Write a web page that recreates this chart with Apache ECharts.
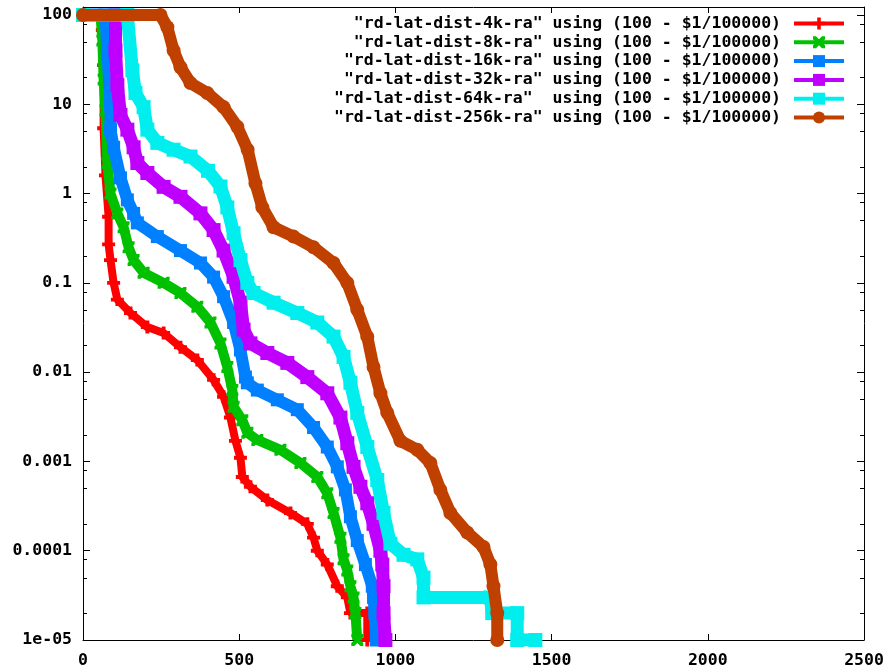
<!DOCTYPE html>
<html>
<head>
<meta charset="utf-8">
<script src="https://cdn.jsdelivr.net/npm/echarts@6/dist/echarts.min.js"></script>
<style>
html,body{margin:0;padding:0;background:#fff;}
#chart{width:891px;height:671px;}
</style>
</head>
<body>
<div id="chart"></div>
<script>
// ---- data (latency x, percent remaining y) ----
var names = [
  '"rd-lat-dist-4k-ra" using (100 - $1/100000)',
  '"rd-lat-dist-8k-ra" using (100 - $1/100000)',
  '"rd-lat-dist-16k-ra" using (100 - $1/100000)',
  '"rd-lat-dist-32k-ra" using (100 - $1/100000)',
  '"rd-lat-dist-64k-ra"  using (100 - $1/100000)',
  '"rd-lat-dist-256k-ra" using (100 - $1/100000)'
];
var colors = ['#ff0000', '#00c000', '#0080ff', '#c000ff', '#00eeee', '#c04000'];

var lat4k = [0, 56, 62, 66, 66, 72, 82, 82, 88, 98, 110, 152, 206, 258, 312, 366, 418, 450, 472, 488, 504, 510, 536, 590, 664, 718, 738, 750, 782, 814, 846, 856, 910, 910];
var pct4k = [100, 100, 68, 27.5, 5.4, 1.6, 0.55, 0.27, 0.18, 0.1, 0.065, 0.046, 0.032, 0.0275, 0.019, 0.0137, 0.0082, 0.0053, 0.0031, 0.0017, 0.0011, 0.00067, 0.00052, 0.00037, 0.000265, 0.0002, 0.00014, 0.0001, 0.00007, 0.00004, 0.00003, 0.00002, 0.00002, 0.00001];

var lat8k = [0, 56, 62, 66, 72, 78, 88, 110, 130, 146, 162, 194, 258, 312, 366, 408, 440, 462, 478, 482, 510, 526, 558, 632, 696, 750, 782, 802, 824, 834, 846, 856, 866, 872, 878];
var pct8k = [100, 100, 52, 19, 8.6, 2.2, 1.0, 0.6, 0.42, 0.25, 0.18, 0.13, 0.1, 0.077, 0.054, 0.036, 0.021, 0.0114, 0.0063, 0.0041, 0.0029, 0.0021, 0.00174, 0.00135, 0.00096, 0.00067, 0.00044, 0.000265, 0.00014, 0.00008, 0.00006, 0.00004, 0.00003, 0.00002, 0.00001];

var lat16k = [0, 72, 78, 88, 88, 98, 120, 142, 162, 174, 238, 312, 376, 418, 450, 482, 504, 520, 526, 558, 622, 686, 738, 782, 814, 840, 856, 878, 904, 926, 930, 934, 939];
var pct16k = [100, 100, 37.5, 10, 5.2, 3.3, 1.5, 0.85, 0.6, 0.47, 0.33, 0.23, 0.167, 0.116, 0.07, 0.036, 0.0177, 0.0088, 0.0076, 0.0063, 0.0049, 0.0038, 0.0024, 0.00145, 0.00087, 0.00048, 0.00024, 0.00013, 0.00007, 0.00004, 0.00003, 0.00002, 0.00001];

var lat32k = [0, 104, 104, 110, 120, 142, 162, 174, 206, 258, 312, 376, 418, 450, 482, 504, 514, 536, 590, 654, 718, 782, 824, 846, 866, 888, 910, 930, 952, 958, 962, 962, 968];
var pct32k = [100, 100, 40, 16.4, 7.6, 5.2, 3.3, 2.2, 1.7, 1.19, 0.92, 0.6, 0.39, 0.23, 0.117, 0.06, 0.03, 0.021, 0.0164, 0.0127, 0.0088, 0.0058, 0.0031, 0.0016, 0.00087, 0.00052, 0.00034, 0.0002, 0.0001, 0.00007, 0.00004, 0.00002, 0.00001];

var lat64k = [0, 142, 158, 168, 194, 206, 238, 290, 344, 400, 440, 462, 482, 504, 526, 546, 610, 686, 750, 802, 834, 856, 878, 910, 942, 962, 984, 1026, 1070, 1090, 1090, 1304, 1310, 1390, 1390, 1448];
var pct64k = [100, 100, 24, 13.4, 9.3, 5.2, 3.7, 3.1, 2.6, 1.8, 1.2, 0.7, 0.36, 0.18, 0.1, 0.077, 0.06, 0.046, 0.036, 0.025, 0.0148, 0.0076, 0.0035, 0.00145, 0.00062, 0.000265, 0.00012, 0.00009, 0.00008, 0.00005, 0.00003, 0.00003, 0.00002, 0.00002, 0.00001, 0.00001];

var lat256k = [0, 248, 270, 290, 312, 344, 398, 450, 494, 527, 552, 574, 610, 674, 738, 802, 846, 878, 910, 930, 952, 974, 1016, 1070, 1112, 1144, 1176, 1230, 1282, 1304, 1314, 1326, 1326];
var pct256k = [100, 100, 73, 40, 26, 17.3, 13.4, 9.3, 5.6, 3.1, 1.3, 0.7, 0.42, 0.33, 0.25, 0.167, 0.1, 0.05, 0.025, 0.0114, 0.0058, 0.0035, 0.0017, 0.00135, 0.00096, 0.00048, 0.000265, 0.00016, 0.00011, 0.00007, 0.00004, 0.00002, 0.00001];

// axis ticks / labels
var xTicks = [0, 500, 1000, 1500, 2000, 2500];
var yTickValues = [1e-5, 1e-4, 1e-3, 0.01, 0.1, 1, 10, 100];
var yTickLabels = ['1e-05', '0.0001', '0.001', '0.01', '0.1', '1', '10', '100'];
var yMinorTicks = [2e-5, 5e-5, 8e-5, 2e-4, 5e-4, 8e-4, 2e-3, 5e-3, 8e-3, 0.02, 0.05, 0.08, 0.2, 0.5, 0.8, 2, 5, 8, 20, 50, 80];

// ---- chart ----
var FONT = '"DejaVu Sans Mono", "Liberation Mono", monospace';
var latArrays = [lat4k, lat8k, lat16k, lat32k, lat64k, lat256k];
var pctArrays = [pct4k, pct8k, pct16k, pct32k, pct64k, pct256k];
var symbols = [
  'path://M3.5,0H6.5V3.5H10V6.5H6.5V10H3.5V6.5H0V3.5H3.5Z',
  'path://M0,0L2.5,0L5,2.5L7.5,0L10,0L10,2.5L7.5,5L10,7.5L10,10L7.5,10L5,7.5L2.5,10L0,10L0,7.5L2.5,5L0,2.5Z',
  'rect', 'rect', 'rect', 'circle'
];
var symbolSizes = [13, 12, 13, 14, 14, 14];
var lineWidths = [8, 10, 12, 13, 13, 12];

function zip(xs, ys) {
  var out = [];
  for (var i = 0; i < xs.length; i++) out.push([xs[i], ys[i]]);
  return out;
}

var series = [];
for (var s = 0; s < names.length; s++) {
  series.push({
    name: names[s],
    type: 'line',
    xAxisIndex: 0,
    yAxisIndex: 0,
    data: zip(latArrays[s], pctArrays[s]),
    symbol: symbols[s],
    symbolSize: symbolSizes[s],
    showSymbol: true,
    showAllSymbol: true,
    color: colors[s],
    itemStyle: { color: colors[s] },
    lineStyle: { color: colors[s], width: lineWidths[s], join: 'bevel' },
    emphasis: { disabled: true },
    animation: false,
    z: 2 + s
  });
}

// minor ticks on the log axis (left and right borders)
series.push({
  type: 'custom',
  name: 'minorTicks',
  xAxisIndex: 0,
  yAxisIndex: 0,
  silent: true,
  animation: false,
  z: 20,
  data: yMinorTicks.map(function (v) { return [0, v]; }),
  encode: { x: 0, y: 1 },
  renderItem: function (params, api) {
    var v = api.value(1);
    var pL = api.coord([0, v]);
    var pR = api.coord([2500, v]);
    var y = Math.round(pL[1]) + 0.5;
    return {
      type: 'group',
      children: [
        { type: 'line', shape: { x1: pL[0], y1: y, x2: pL[0] + 4, y2: y }, style: { stroke: '#000', lineWidth: 1 } },
        { type: 'line', shape: { x1: pR[0] - 4, y1: y, x2: pR[0], y2: y }, style: { stroke: '#000', lineWidth: 1 } }
      ]
    };
  }
});

var legends = [];
for (var i = 0; i < names.length; i++) {
  legends.push({
    data: [names[i]],
    orient: 'horizontal',
    right: 45,
    top: 15 + 18.8 * i,
    padding: 0,
    align: 'right',
    itemWidth: 50,
    itemHeight: 15,
    selectedMode: false,
    lineStyle: { width: 4 },
    textStyle: {
      fontFamily: FONT,
      fontSize: 16.5,
      fontWeight: 'bold',
      color: '#000',
      padding: [0, 8, 0, 0]
    }
  });
}

function yLabel(v) {
  var lg = Math.log10(v);
  var r = Math.round(lg);
  if (Math.abs(lg - r) > 0.01) return '';
  for (var k = 0; k < yTickValues.length; k++) {
    if (Math.round(Math.log10(yTickValues[k])) === r) return yTickLabels[k];
  }
  return '';
}

function xLabel(v) {
  for (var k = 0; k < xTicks.length; k++) {
    if (Math.abs(xTicks[k] - v) < 1e-6) return String(xTicks[k]);
  }
  return '';
}

var axisLabelStyle = { fontFamily: FONT, fontSize: 16.5, fontWeight: 'bold', color: '#000' };

var option = {
  animation: false,
  backgroundColor: '#fff',
  grid: { left: 83, right: 27, top: 7, bottom: 31, outerBoundsMode: 'none', containLabel: false },
  legend: legends,
  xAxis: [
    {
      type: 'value', position: 'bottom', min: xTicks[0], max: xTicks[xTicks.length - 1], interval: 500,
      axisLine: { show: true, onZero: false, lineStyle: { color: '#000', width: 1 } },
      axisTick: { show: true, inside: true, length: 6, lineStyle: { color: '#000' } },
      axisLabel: Object.assign({ margin: 12, formatter: xLabel }, axisLabelStyle),
      splitLine: { show: false }
    },
    {
      type: 'value', position: 'top', min: xTicks[0], max: xTicks[xTicks.length - 1], interval: 500,
      axisLine: { show: true, onZero: false, lineStyle: { color: '#000', width: 1 } },
      axisTick: { show: true, inside: true, length: 6, lineStyle: { color: '#000' } },
      axisLabel: { show: false },
      splitLine: { show: false }
    }
  ],
  yAxis: [
    {
      type: 'log', logBase: 10, position: 'left', min: 1e-5, max: 123,
      axisLine: { show: true, onZero: false, lineStyle: { color: '#000', width: 1 } },
      axisTick: { show: true, inside: true, length: 7, lineStyle: { color: '#000' } },
      axisLabel: Object.assign({ margin: 11, formatter: yLabel }, axisLabelStyle),
      splitLine: { show: false },
      minorTick: { show: false }
    },
    {
      type: 'log', logBase: 10, position: 'right', min: 1e-5, max: 123,
      axisLine: { show: true, onZero: false, lineStyle: { color: '#000', width: 1 } },
      axisTick: { show: true, inside: true, length: 7, lineStyle: { color: '#000' } },
      axisLabel: { show: false },
      splitLine: { show: false }
    }
  ],
  series: series
};

var chart = echarts.init(document.getElementById('chart'), null, { renderer: 'canvas' });
chart.setOption(option);
</script>
</body>
</html>
